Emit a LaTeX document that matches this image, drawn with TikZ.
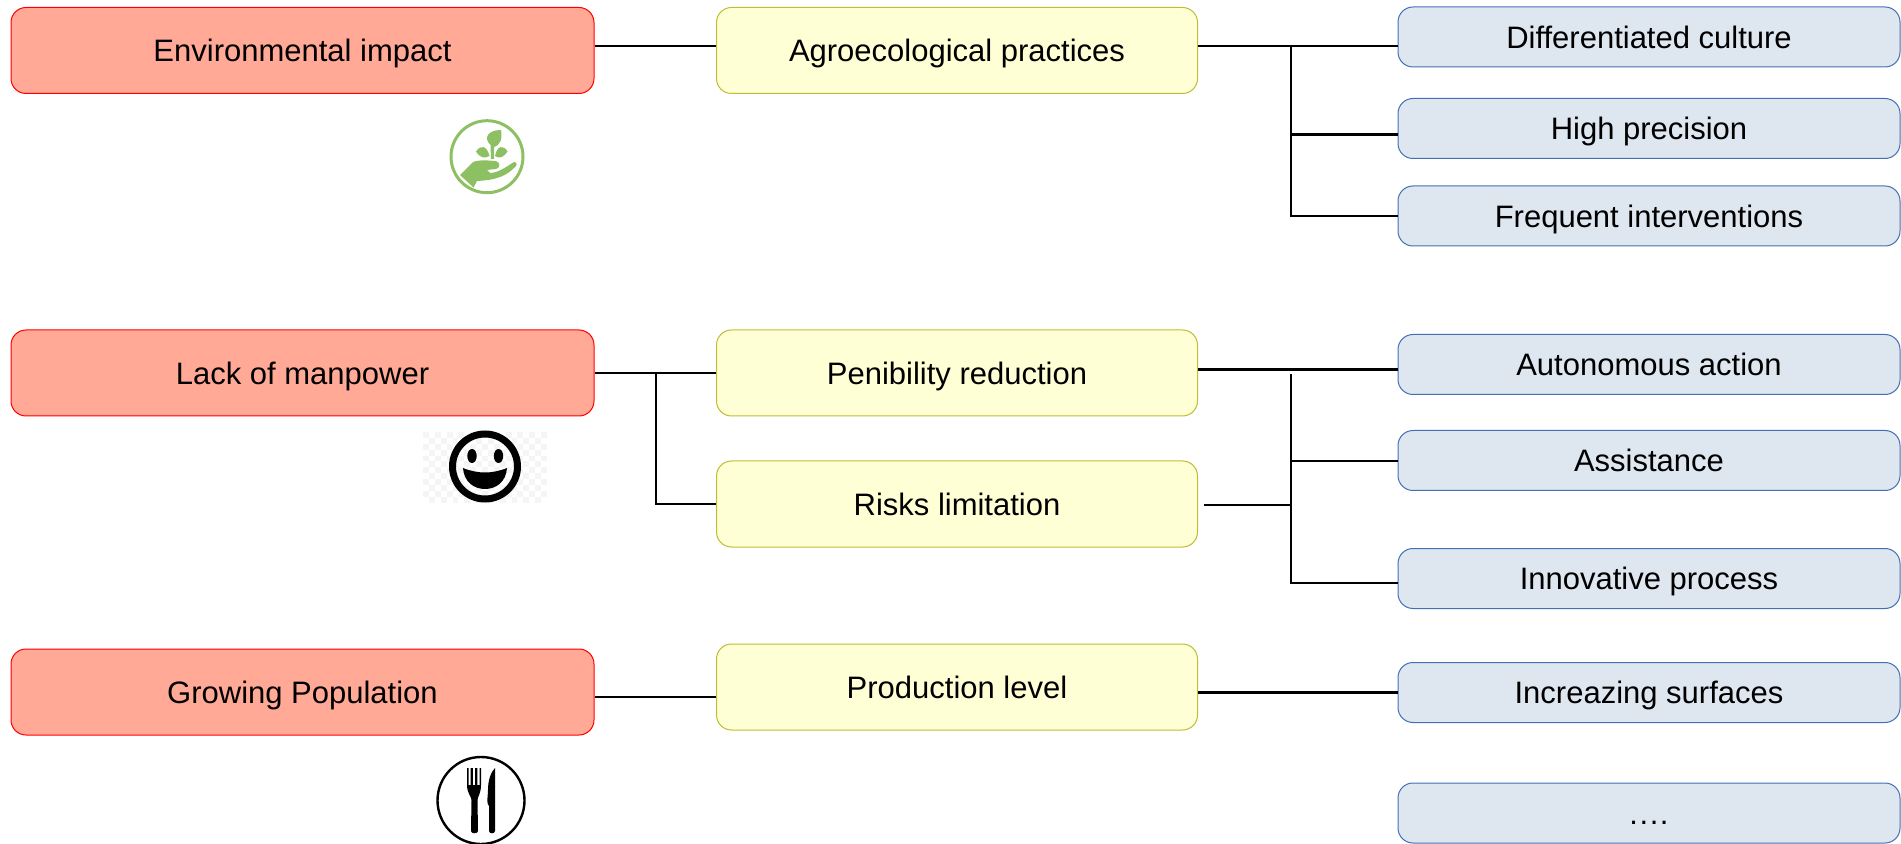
\documentclass[tikz,border=0pt]{standalone}
\usepackage{fontspec}
\setmainfont{Liberation Sans}
\definecolor{causefill}{RGB}{255,169,150}
\definecolor{needfill}{RGB}{255,255,213}
\definecolor{needline}{RGB}{190,190,50}
\definecolor{meansfill}{RGB}{222,230,240}
\definecolor{meansline}{RGB}{65,113,181}
\definecolor{sprout}{RGB}{140,192,98}
\tikzset{
	box/.style={rounded corners=7.5pt, inner sep=0pt, line width=0.5pt, text height=11.2pt, text depth=0pt, font=\fontsize{15.5}{18}\selectfont},
	cause/.style={box, draw=red, fill=causefill, minimum width=291.5pt, minimum height=43pt},
	need/.style={box, draw=needline, fill=needfill, minimum width=240.5pt, minimum height=43pt},
	means/.style={box, draw=meansline, fill=meansfill, minimum width=251pt, minimum height=30pt},
	link/.style={black, line width=1.4pt},
}

\begin{document}
\begin{tikzpicture}[x=0.5pt, y=-0.5pt]

	\useasboundingbox (0,0) rectangle (1901,844);

	% left column
	\node[cause] (env) at (302.5,50.5) {Environmental impact};
	\node[cause] (lack) at (302.5,373) {Lack of manpower};
	\node[cause] (grow) at (302.5,692) {Growing Population};

	% middle column
	\node[need] (agro) at (957,50.5) {Agroecological practices};
	\node[need] (penib) at (957,373) {Penibility reduction};
	\node[need] (risks) at (957,504) {Risks limitation};
	\node[need] (prod) at (957,687) {Production level};

	% right column
	\node[means] (diff) at (1649,37) {Differentiated culture};
	\node[means] (high) at (1649,128.5) {High precision};
	\node[means] (freq) at (1649,216) {Frequent interventions};
	\node[means] (auton) at (1649,364.5) {Autonomous action};
	\node[means] (assist) at (1649,460.5) {Assistance};
	\node[means] (innov) at (1649,578.5) {Innovative process};
	\node[means] (incr) at (1649,692.5) {Increazing surfaces};
	\node[means] (dots) at (1649,813) {\addfontfeature{LetterSpace=5}....};

	% junctions
	\coordinate (agrobus) at (1291,46);
	\coordinate (highbus) at (1291,134.5);
	\coordinate (lackbus) at (656,373);
	\coordinate (penibbus) at (1291,369.5);
	\coordinate (topbus) at (1291,374);
	\coordinate (assistbus) at (1291,461);
	\coordinate (risksbus) at (1291,505);
	\coordinate (innovbus) at (1291,583);
	\coordinate (risksend) at (1204,505);
	\coordinate (growbus) at (600,697);

	% first row
	\draw[link] (env.east |- agrobus) -- (agro.west |- agrobus);
	\draw[link] (agro.east |- agrobus) -- (diff.west |- agrobus);
	\draw[link] (agrobus) |- (freq.west);
	\draw[link] (highbus) -- (high.west |- highbus);

	% second row
	\draw[link] (lack.east) -- (penib.west);
	\draw[link] (lackbus) |- (risks.west);
	\draw[link] (penib.east |- penibbus) -- (auton.west |- penibbus);
	\draw[link] (topbus) -- (innovbus) -- (innov.west |- innovbus);
	\draw[link] (assistbus) -- (assist.west |- assistbus);
	\draw[link] (risksend) -- (risksbus);

	% third row
	\draw[link] (grow.east |- growbus) -- (prod.west |- growbus);
	\draw[link] (prod.east |- incr.west) -- (incr.west);

	% sprout in a hand
	\draw[sprout, line width=1.5pt] (487,156.7) circle (36);
	\fill[sprout] (491,159) -- (490.5,145) .. controls (483,138) and (488,130) .. (501,130) .. controls (503,140) and (499,146) .. (494,147) -- (494,159) -- cycle;
	\fill[sprout] (489.5,156) .. controls (487,146) and (481,144) .. (476,151.5) .. controls (480,158) and (485,159) .. (489.5,156) -- cycle;
	\fill[sprout] (495,156) .. controls (497,146) and (503,144) .. (507.5,151.5) .. controls (503,158) and (499,159) .. (495,156) -- cycle;
	\fill[sprout] (473.5,187.5) -- (460,175) -- (473,162) .. controls (482,159) and (490,161) .. (496,161) .. controls (501,163) and (500,168) .. (496,169) -- (487,170) -- (490,173) .. controls (498,173) and (506,167) .. (514,162) .. controls (518,162) and (517,166) .. (514,168) .. controls (507,175) and (498,180) .. (477,181) -- cycle;

	% checker behind the smiley
	\foreach \i in {0,...,20}
		\foreach \j in {0,...,11} {
			\pgfmathtruncatemacro{\odd}{mod(\i+\j,2)}
			\ifnum\odd=0
				\fill[black!4] ({423+5.9*\i},{432+5.9*\j}) rectangle ++(5.9,5.9);
			\fi
		}

	% smiley
	\draw[black, line width=3.5pt] (485,466.5) circle (32.5);
	\fill[black] (472,456) ellipse (4.7 and 7);
	\fill[black] (498.5,456) ellipse (4.7 and 7);
	\fill[black] (463,468) .. controls (478,474) and (492,474) .. (507,468) .. controls (506,482) and (496,489) .. (485,489) .. controls (474,489) and (464,482) .. (463,468) -- cycle;

	% fork and knife
	\draw[black, line width=1.2pt] (481,800.5) circle (43.5);
	\fill[black] (467,768) -- (468.5,768) -- (468.5,785) -- (470.5,785) -- (470.5,768) -- (472.8,768) -- (472.8,785) -- (475,785) -- (475,768) -- (477.3,768) -- (477.3,785) -- (479.5,785) -- (479.5,768) -- (481,768) -- (481,785) .. controls (481,793) and (478,796) .. (477.5,800) -- (478,831) .. controls (478,834) and (471,834) .. (471,831) -- (471.5,800) .. controls (471,796) and (467,793) .. (467,785) -- cycle;
	\fill[black] (495,768) -- (495,831) .. controls (495,834) and (489,834) .. (489,831) -- (489,806) .. controls (486,804) and (488,796) .. (488,790) .. controls (488,780) and (491,772) .. (495,768) -- cycle;

\end{tikzpicture}
\end{document}
